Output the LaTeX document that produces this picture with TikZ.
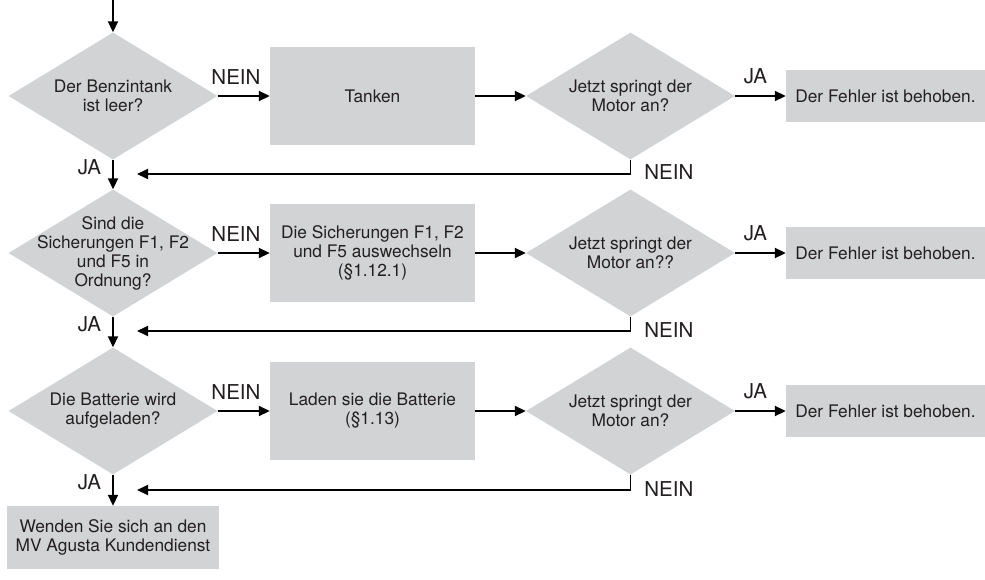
\documentclass[tikz,border=0pt]{standalone}
\usepackage{fontspec}
\setmainfont{TeX Gyre Heros}
\usetikzlibrary{arrows.meta,shapes.geometric}
\definecolor{boxgray}{RGB}{209,211,212}
\definecolor{ink}{RGB}{35,31,32}
\tikzset{
  txt/.style={align=center, text=ink, font=\fontsize{17.3}{19}\selectfont},
  kdecision/.style={shape=diamond, fill=boxgray, aspect=1.65, inner sep=0pt, minimum width=209pt, minimum height=127pt},
  kaction/.style={txt, fill=boxgray, inner sep=0pt, minimum width=205pt, minimum height=98pt},
  kdone/.style={txt, fill=boxgray, inner sep=0pt, minimum width=199pt, minimum height=52pt},
  flow/.style={-{Triangle[length=11pt,width=10pt]}, line width=1.8pt},
  lbl/.style={text=ink, inner sep=2pt, font=\fontsize{20.5}{23}\selectfont},
}

\begin{document}
\begin{tikzpicture}[x=1pt, y=-1pt]
    \useasboundingbox (0,0) rectangle (985,579);
    % row 1
    \node[kdecision, label={[txt]center:{Der Benzintank\\ist leer?}}] (tank) at (113,96) {};
    \node[kaction] (refuel) at (372.5,96) {Tanken};
    \node[kdecision, label={[txt]center:{Jetzt springt der\\Motor an?}}] (retry1) at (630.5,96) {};
    \node[kdone] (fixed1) at (885.5,96) {Der Fehler ist behoben.};
    % row 2
    \node[kdecision, label={[txt]center:{Sind die\\Sicherungen F1, F2\\und F5 in\\Ordnung?}}] (fuses) at (113,253) {};
    \node[kaction] (swap) at (372.5,253) {Die Sicherungen F1, F2\\und F5 auswechseln\\(§1.12.1)};
    \node[kdecision, label={[txt]center:{Jetzt springt der\\Motor an??}}] (retry2) at (630.5,253) {};
    \node[kdone] (fixed2) at (885.5,253) {Der Fehler ist behoben.};
    % row 3
    \node[kdecision, label={[txt]center:{Die Batterie wird\\aufgeladen?}}] (battery) at (113,411) {};
    \node[kaction] (charge) at (372.5,411) {Laden sie die Batterie\\(§1.13)};
    \node[kdecision, label={[txt]center:{Jetzt springt der\\Motor an?}}] (retry3) at (630.5,411) {};
    \node[kdone] (fixed3) at (885.5,411) {Der Fehler ist behoben.};
    \node[kaction, minimum width=212pt, minimum height=63pt] (service) at (113,537.5) {Wenden Sie sich an den\\MV Agusta Kundendienst};
    % loose ends
    \coordinate (start) at (113,0);
    \coordinate (back1) at (137,174);
    \coordinate (back2) at (137,331);
    \coordinate (back3) at (137,490);
    % connectors
    \draw[flow] (start) -- (tank);
    \draw[flow] (tank) -- (refuel) node[lbl, pos=0.35, above=9pt]{NEIN};
    \draw[flow] (refuel) -- (retry1);
    \draw[flow] (retry1) -- (fixed1) node[lbl, pos=0.4, above=9pt]{JA};
    \draw[flow] (retry1) |- (back1) node[lbl, pos=0.5, anchor=west, xshift=11pt, yshift=2pt]{NEIN};
    \draw[flow] (tank) -- (fuses) node[lbl, pos=0.25, left=9pt]{JA};
    \draw[flow] (fuses) -- (swap) node[lbl, pos=0.35, above=9pt]{NEIN};
    \draw[flow] (swap) -- (retry2);
    \draw[flow] (retry2) -- (fixed2) node[lbl, pos=0.4, above=9pt]{JA};
    \draw[flow] (retry2) |- (back2) node[lbl, pos=0.5, anchor=west, xshift=11pt, yshift=1pt]{NEIN};
    \draw[flow] (fuses) -- (battery) node[lbl, pos=0.25, left=9pt]{JA};
    \draw[flow] (battery) -- (charge) node[lbl, pos=0.35, above=9pt]{NEIN};
    \draw[flow] (charge) -- (retry3);
    \draw[flow] (retry3) -- (fixed3) node[lbl, pos=0.4, above=9pt]{JA};
    \draw[flow] (retry3) |- (back3) node[lbl, pos=0.5, anchor=west, xshift=11pt, yshift=1pt]{NEIN};
    \draw[flow] (battery) -- (service) node[lbl, pos=0.25, left=9pt]{JA};
\end{tikzpicture}
\end{document}
